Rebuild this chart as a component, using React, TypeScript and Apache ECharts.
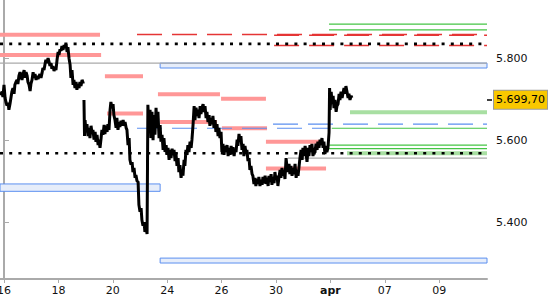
import React, { useEffect, useRef } from "react";
import * as echarts from "echarts";

// trading-day index (0 = 16 mar) on x, price on y
const xTickPositions = [0, 2, 4, 6, 8, 10, 12, 14, 16];
const xTickLabels = ["16", "18", "20", "24", "26", "30", "apr", "07", "09"];
const yTickValues = [5400, 5600, 5800];
const X_MIN = -0.147;
const X_MAX = 17.757;
const Y_MIN = 5262;
const Y_MAX = 5943;
const lastPrice = 5699.7;
const lastPriceText = "5.699,70";

const price: [number, number | null][] = [
  [-0.14, 5711], [-0.07, 5719], [-0.04, 5706], [0.0, 5736], [0.04, 5704], [0.07, 5694], [0.11, 5685], [0.15, 5692],
  [0.18, 5675], [0.22, 5689], [0.26, 5706], [0.29, 5719], [0.33, 5728], [0.37, 5714], [0.4, 5736], [0.44, 5743],
  [0.48, 5748], [0.51, 5738], [0.55, 5758], [0.59, 5767], [0.66, 5748], [0.7, 5762], [0.74, 5772], [0.77, 5753],
  [0.81, 5767], [0.85, 5758], [0.88, 5743], [0.92, 5736], [0.96, 5721], [0.99, 5738], [1.03, 5748], [1.07, 5767],
  [1.1, 5753], [1.14, 5762], [1.18, 5748], [1.21, 5758], [1.25, 5750], [1.32, 5762], [1.36, 5753], [1.4, 5765],
  [1.43, 5777], [1.47, 5772], [1.51, 5787], [1.54, 5797], [1.58, 5789], [1.62, 5801], [1.65, 5794], [1.69, 5782],
  [1.73, 5789], [1.76, 5775], [1.8, 5782], [1.84, 5770], [1.88, 5777], [1.91, 5772], [1.95, 5797], [1.99, 5816],
  [2.02, 5809], [2.06, 5823], [2.1, 5819], [2.13, 5831], [2.17, 5821], [2.21, 5833], [2.24, 5826], [2.28, 5836],
  [2.32, 5816], [2.35, 5828], [2.39, 5801], [2.43, 5785], [2.46, 5753], [2.5, 5772], [2.54, 5736], [2.57, 5748],
  [2.61, 5728], [2.65, 5743], [2.68, 5724], [2.72, 5738], [2.76, 5728], [2.79, 5743], [2.83, 5733], [2.87, 5748],
  [2.91, 5741], [2.93, 5743], [2.935, null],
  [2.94, 5699], [2.96, 5611], [2.98, 5650], [3.01, 5621], [3.05, 5640], [3.09, 5611], [3.13, 5631], [3.16, 5606],
  [3.2, 5636], [3.24, 5616], [3.27, 5626], [3.31, 5602], [3.35, 5621], [3.38, 5597], [3.42, 5614], [3.46, 5589],
  [3.49, 5602], [3.53, 5582], [3.57, 5606], [3.6, 5626], [3.64, 5614], [3.68, 5638], [3.71, 5616], [3.75, 5636],
  [3.79, 5621], [3.82, 5640], [3.86, 5626], [3.9, 5675], [3.93, 5694], [3.97, 5679], [4.01, 5689], [4.04, 5662],
  [4.08, 5650], [4.12, 5631], [4.15, 5655], [4.19, 5626], [4.23, 5645], [4.26, 5633], [4.3, 5648], [4.34, 5636],
  [4.38, 5650], [4.41, 5636], [4.45, 5645], [4.49, 5631], [4.52, 5626], [4.56, 5589], [4.6, 5606], [4.63, 5553],
  [4.67, 5541], [4.71, 5547], [4.74, 5523], [4.78, 5533], [4.82, 5509], [4.85, 5516], [4.89, 5501], [4.93, 5499],
  [4.96, 5443], [5.0, 5426], [5.04, 5435], [5.07, 5406], [5.11, 5392], [5.15, 5401], [5.18, 5377], [5.22, 5387],
  [5.26, 5372], [5.29, 5687], [5.33, 5626], [5.37, 5675], [5.4, 5606], [5.44, 5670], [5.48, 5601], [5.51, 5662],
  [5.55, 5614], [5.59, 5680], [5.62, 5631], [5.66, 5670], [5.7, 5606], [5.74, 5638], [5.77, 5597], [5.81, 5614],
  [5.85, 5577], [5.88, 5606], [5.92, 5572], [5.96, 5589], [5.99, 5565], [6.03, 5582], [6.07, 5553], [6.1, 5577],
  [6.14, 5557], [6.18, 5580], [6.21, 5565], [6.25, 5577], [6.29, 5550], [6.32, 5570], [6.36, 5538], [6.4, 5557],
  [6.43, 5523], [6.47, 5540], [6.51, 5509], [6.54, 5528], [6.58, 5514], [6.62, 5553], [6.65, 5538], [6.69, 5577],
  [6.73, 5565], [6.76, 5589], [6.8, 5572], [6.84, 5597], [6.88, 5582], [6.91, 5602], [6.95, 5638], [6.99, 5684],
  [7.02, 5650], [7.06, 5680], [7.1, 5660], [7.13, 5675], [7.17, 5655], [7.21, 5684], [7.24, 5665], [7.28, 5680],
  [7.32, 5689], [7.35, 5670], [7.39, 5684], [7.43, 5655], [7.46, 5670], [7.5, 5645], [7.54, 5662], [7.57, 5636],
  [7.61, 5655], [7.65, 5640], [7.68, 5660], [7.72, 5631], [7.76, 5650], [7.79, 5621], [7.83, 5640], [7.87, 5611],
  [7.9, 5631], [7.94, 5606], [7.98, 5621], [8.01, 5572], [8.05, 5592], [8.09, 5565], [8.12, 5587], [8.16, 5572],
  [8.2, 5589], [8.24, 5562], [8.27, 5582], [8.31, 5565], [8.35, 5587], [8.38, 5570], [8.42, 5584], [8.46, 5562],
  [8.49, 5580], [8.53, 5572], [8.57, 5602], [8.6, 5587], [8.64, 5616], [8.68, 5597], [8.71, 5611], [8.75, 5577],
  [8.79, 5592], [8.82, 5562], [8.86, 5587], [8.9, 5567], [8.93, 5577], [8.97, 5550], [9.01, 5557], [9.04, 5528],
  [9.08, 5538], [9.12, 5518], [9.15, 5514], [9.19, 5494], [9.23, 5509], [9.26, 5489], [9.3, 5506], [9.34, 5494],
  [9.37, 5511], [9.41, 5489], [9.45, 5504], [9.49, 5492], [9.52, 5511], [9.56, 5496], [9.6, 5514], [9.63, 5494],
  [9.67, 5509], [9.71, 5489], [9.74, 5514], [9.78, 5499], [9.82, 5518], [9.85, 5492], [9.89, 5511], [9.93, 5496],
  [9.96, 5523], [10.0, 5504], [10.04, 5514], [10.07, 5489], [10.11, 5511], [10.15, 5528], [10.18, 5509], [10.22, 5533],
  [10.26, 5514], [10.29, 5528], [10.33, 5506], [10.37, 5557], [10.4, 5538], [10.44, 5523], [10.48, 5543], [10.51, 5518],
  [10.55, 5538], [10.59, 5514], [10.62, 5533], [10.66, 5518], [10.7, 5543], [10.74, 5509], [10.77, 5528], [10.81, 5514],
  [10.85, 5538], [10.88, 5557], [10.92, 5577], [10.96, 5553], [10.99, 5582], [11.03, 5562], [11.07, 5587], [11.1, 5572],
  [11.14, 5548], [11.18, 5582], [11.21, 5562], [11.25, 5589], [11.29, 5572], [11.32, 5592], [11.36, 5562], [11.4, 5582],
  [11.43, 5570], [11.47, 5592], [11.51, 5577], [11.54, 5597], [11.58, 5582], [11.62, 5602], [11.65, 5589], [11.69, 5606],
  [11.73, 5582], [11.76, 5597], [11.8, 5567], [11.84, 5587], [11.87, 5572], [11.91, 5582], [11.95, 5619], [11.97, 5728],
  [11.99, 5675], [12.03, 5719], [12.06, 5689], [12.1, 5709], [12.13, 5679], [12.17, 5699], [12.21, 5670], [12.24, 5684],
  [12.28, 5689], [12.32, 5714], [12.35, 5699], [12.39, 5719], [12.43, 5704], [12.46, 5714], [12.5, 5728], [12.54, 5714],
  [12.57, 5733], [12.61, 5719], [12.65, 5704], [12.68, 5714], [12.72, 5699], [12.76, 5709], [12.79, 5704],
];

// [level, fromDay, toDay]
const salmonBars: number[][] = [
  [5858, X_MIN, 3.53], [5809, X_MIN, 3.57], [5757, 3.71, 5.11], [5666, 3.79, 5.11],
  [5713, 5.66, 7.94], [5645, 5.74, 7.83], [5702, 7.98, 9.63], [5630, 8.01, 9.67],
  [5597, 9.63, 11.62], [5532, 9.63, 11.84],
];
const redDashed: number[][] = [[5859, 4.89, X_MAX], [5857, 9.93, X_MAX], [5832, 9.93, X_MAX]];
const blackDotted: number[][] = [[5836, X_MIN, X_MAX], [5569, X_MIN, X_MAX]];
const grayLines: number[][] = [[5789, X_MIN, X_MAX], [5557, 10.44, X_MAX]];
const blueDashed: number[][] = [[5630, 4.89, 11.99], [5640, 9.89, X_MAX]];
const greenLines: number[][] = [
  [5884, 11.95, X_MAX], [5870, 11.95, X_MAX], [5630, 12.05, X_MAX], [5589, 11.95, X_MAX], [5580, 11.95, X_MAX],
];
const greenBars: number[][] = [[5669, 12.72, X_MAX], [5569, 12.61, X_MAX]];
// [low, high, fromDay, toDay]
const blueZones: number[][] = [[5777, 5789, 5.74, X_MAX], [5476, 5494, X_MIN, 5.74], [5301, 5313, 5.74, X_MAX]];

const FONT = "DejaVu Sans";

function levels(rows: number[][], lineStyle: any, z: number) {
  return rows.map(([v, a, b]) => ({
    type: "line",
    data: [[a, v], [b, v]],
    symbol: "none",
    silent: true,
    z,
    lineStyle,
  }));
}

export default function App() {
  const ref = useRef<HTMLDivElement>(null);
  useEffect(() => {
    if (!ref.current) return;
    const chart = echarts.init(ref.current, null, { renderer: "svg" });
    chart.setOption({
      animation: false,
      grid: { left: 0, right: 63, top: 0, bottom: 21, containLabel: false, outerBoundsMode: "none" },
      xAxis: {
        type: "value",
        min: X_MIN,
        max: X_MAX,
        splitLine: { show: false },
        axisLine: { onZero: false, lineStyle: { color: "#aaaaaa", width: 2 } },
        axisTick: { customValues: xTickPositions, length: 4, lineStyle: { color: "#aaaaaa" } },
        axisLabel: {
          customValues: xTickPositions,
          margin: 6,
          color: "#111",
          fontFamily: FONT,
          fontSize: 11,
          formatter: (v: number) => {
            const i = xTickPositions.indexOf(Math.round(v));
            const t = i >= 0 ? xTickLabels[i] : "";
            return /^\d+$/.test(t) ? t : `{b|${t}}`;
          },
          rich: { b: { fontWeight: "bold", fontFamily: FONT, fontSize: 11, color: "#111" } },
        },
      },
      yAxis: [
        {
          type: "value",
          position: "right",
          min: Y_MIN,
          max: Y_MAX,
          splitLine: { show: false },
          axisLine: { show: true, lineStyle: { color: "#aaaaaa", width: 2 } },
          axisTick: { show: true, customValues: yTickValues, length: 5, lineStyle: { color: "#aaaaaa" } },
          axisLabel: {
            customValues: yTickValues,
            margin: 9,
            color: "#111",
            fontFamily: FONT,
            fontSize: 11,
            formatter: (v: number) => (v / 1000).toFixed(3),
          },
        },
        {
          type: "value",
          position: "right",
          offset: 0,
          min: Y_MIN,
          max: Y_MAX,
          splitLine: { show: false },
          axisLine: { show: false },
          axisTick: { show: true, customValues: [lastPrice], length: 5, lineStyle: { color: "#000", width: 1.5 } },
          axisLabel: { show: false },
        },
      ],
      series: [
        ...levels(salmonBars, { color: "#ff9797", width: 4 }, 1),
        {
          type: "line",
          data: [],
          silent: true,
          z: 2,
          markArea: {
            silent: true,
            itemStyle: { color: "#e6edfa", borderColor: "#5b8ff0", borderWidth: 1 },
            data: blueZones.map(([lo, hi, a, b]) => [
              { xAxis: a, yAxis: hi },
              { xAxis: b, yAxis: lo },
            ]),
          },
        },
        ...levels(greenBars, { color: "#a8dfa2", width: 4 }, 3),
        ...levels(grayLines, { color: "#aaaaaa", width: 1.2 }, 3),
        ...levels(redDashed, { color: "#e53535", width: 1.5, type: [25, 10] }, 4),
        ...levels(blueDashed, { color: "#5b8ff0", width: 1.2, type: [25, 10] }, 4),
        ...levels(greenLines, { color: "#44c544", width: 1.2 }, 4),
        ...levels(blackDotted, { color: "#000", width: 2.6, type: [3, 6.2] }, 4),
        {
          type: "line",
          data: price,
          symbol: "none",
          silent: true,
          z: 6,
          connectNulls: false,
          lineStyle: { color: "#000", width: 3, join: "bevel" },
        },
        {
          type: "line",
          data: [],
          silent: true,
          clip: false,
          z: 7,
          markLine: {
            silent: true,
            symbol: "none",
            lineStyle: { color: "rgba(0,0,0,0)", width: 1, type: "solid" },
            data: [{ yAxis: lastPrice }],
            label: {
              show: true,
              position: "end",
              distance: 7,
              formatter: lastPriceText,
              color: "#000",
              opacity: 1,
              fontFamily: FONT,
              fontSize: 11,
              backgroundColor: "#f9c800",
              borderColor: "#9a9a9a",
              borderWidth: 1,
              padding: [4, 2, 3, 2],
            },
          },
        },
      ],
    });
    return () => chart.dispose();
  }, []);
  return (
    <div
      ref={ref}
      style={{ position: "fixed", left: 0, top: 0, width: 550, height: 300, background: "#fff" }}
    />
  );
}
